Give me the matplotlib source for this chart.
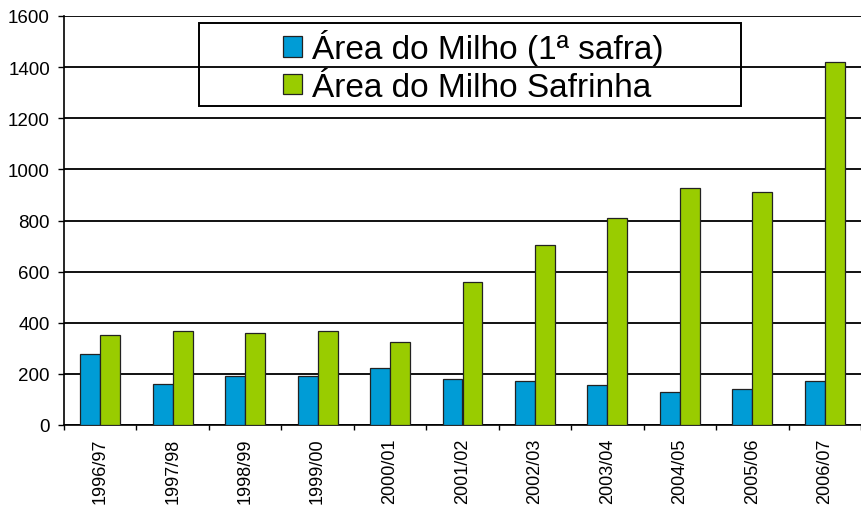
import matplotlib.pyplot as plt
import numpy as np
from matplotlib.patches import Rectangle

plt.rcParams['font.family'] = ['Liberation Sans', 'DejaVu Sans']

safras = ['1996/97', '1997/98', '1998/99', '1999/00', '2000/01', '2001/02',
          '2002/03', '2003/04', '2004/05', '2005/06', '2006/07']
area_1a_safra = [278, 159, 193, 193, 222, 178, 172, 158, 131, 139, 174]
area_safrinha = [354, 367, 360, 367, 325, 558, 703, 808, 926, 913, 1419]

blue = '#009cd6'
green = '#99cc00'

fig = plt.figure(figsize=(8.61, 5.06), dpi=100)
ax = fig.add_axes([64 / 861, 80 / 506, 797 / 861, 409 / 506])

x = np.arange(len(safras))
w = 0.275
ax.bar(x - w / 2, area_1a_safra, w, color=blue, edgecolor='#222222', linewidth=0.9,
       label='Área do Milho (1ª safra)', zorder=3)
ax.bar(x + w / 2, area_safrinha, w, color=green, edgecolor='#222222', linewidth=0.9,
       label='Área do Milho Safrinha', zorder=3)

ax.set_ylim(0, 1600)
ax.set_yticks(range(0, 1601, 200))
ax.set_xlim(-0.5, -0.5 + 797 / 73.3)
ax.set_xticks(x)
ax.set_xticklabels(safras, rotation=90, va='top', ha='center')
ax.set_xticks(np.arange(-0.5, len(safras), 1), minor=True)

ax.grid(axis='y', color='#111111', linewidth=1.4, zorder=1)
ax.tick_params(axis='y', labelsize=13.5, length=4.3, width=1, pad=5.8, direction='out')
ax.tick_params(axis='x', which='major', labelsize=13, length=0, pad=9)
ax.tick_params(axis='x', which='minor', length=3.5, width=1, direction='out')

for s in ['top', 'right']:
    ax.spines[s].set_visible(False)
ax.spines['left'].set_linewidth(1.2)
ax.spines['bottom'].set_linewidth(1.2)

# legend box
fig.patches.append(Rectangle((199 / 861, (506 - 107) / 506), 542 / 861, 83 / 506,
                             transform=fig.transFigure, fill=False,
                             edgecolor='black', linewidth=1.4, zorder=5))
fig.legend(loc='center', bbox_to_anchor=(473 / 861, (506 - 67) / 506),
           frameon=False, fontsize=24, handlelength=0.58, handleheight=0.58,
           handletextpad=0.3, labelspacing=0.19, borderpad=0)

fig.savefig('out.png', dpi=100)
